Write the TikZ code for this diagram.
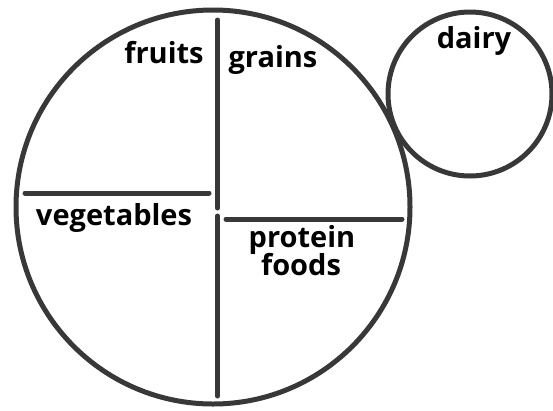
\documentclass[tikz,border=0pt]{standalone}
\usepackage{fontspec}
\setmainfont{Open Sans}
\begin{document}
\begin{tikzpicture}[x=1pt,y=-1pt]
\tikzstyle{rim}=[draw=black!78,line width=5pt]
\tikzstyle{split}=[draw=black!78,line width=5pt,line cap=round]
\tikzstyle{food}=[anchor=base,inner sep=0pt,font=\fontsize{29}{31}\selectfont\bfseries,align=center]
\useasboundingbox (0,0) rectangle (553,410);
\node[rim,circle,minimum size=394pt,inner sep=0pt](plate) at (213,207) {};
\node[rim,circle,minimum size=164pt,inner sep=0pt](cup) at (470,94) {};

\draw[split] (217.5,20) -- (217.5,208);
\draw[split] (217.5,216) -- (217.5,396);
\draw[split] (25,193) -- (209,193);
\draw[split] (226,219) -- (402,219);

\node[food](fruits) at (164,63) {fruits};
\node[food](grains) at (273,67) {grains};
\node[food](dairy) at (474,48) {dairy};
\node[food](vegetables) at (114,225) {vegetables};
\node[food](protein) at (302,247) {protein};
\node[food](foods) at (301,275) {foods};
\end{tikzpicture}
\end{document}
